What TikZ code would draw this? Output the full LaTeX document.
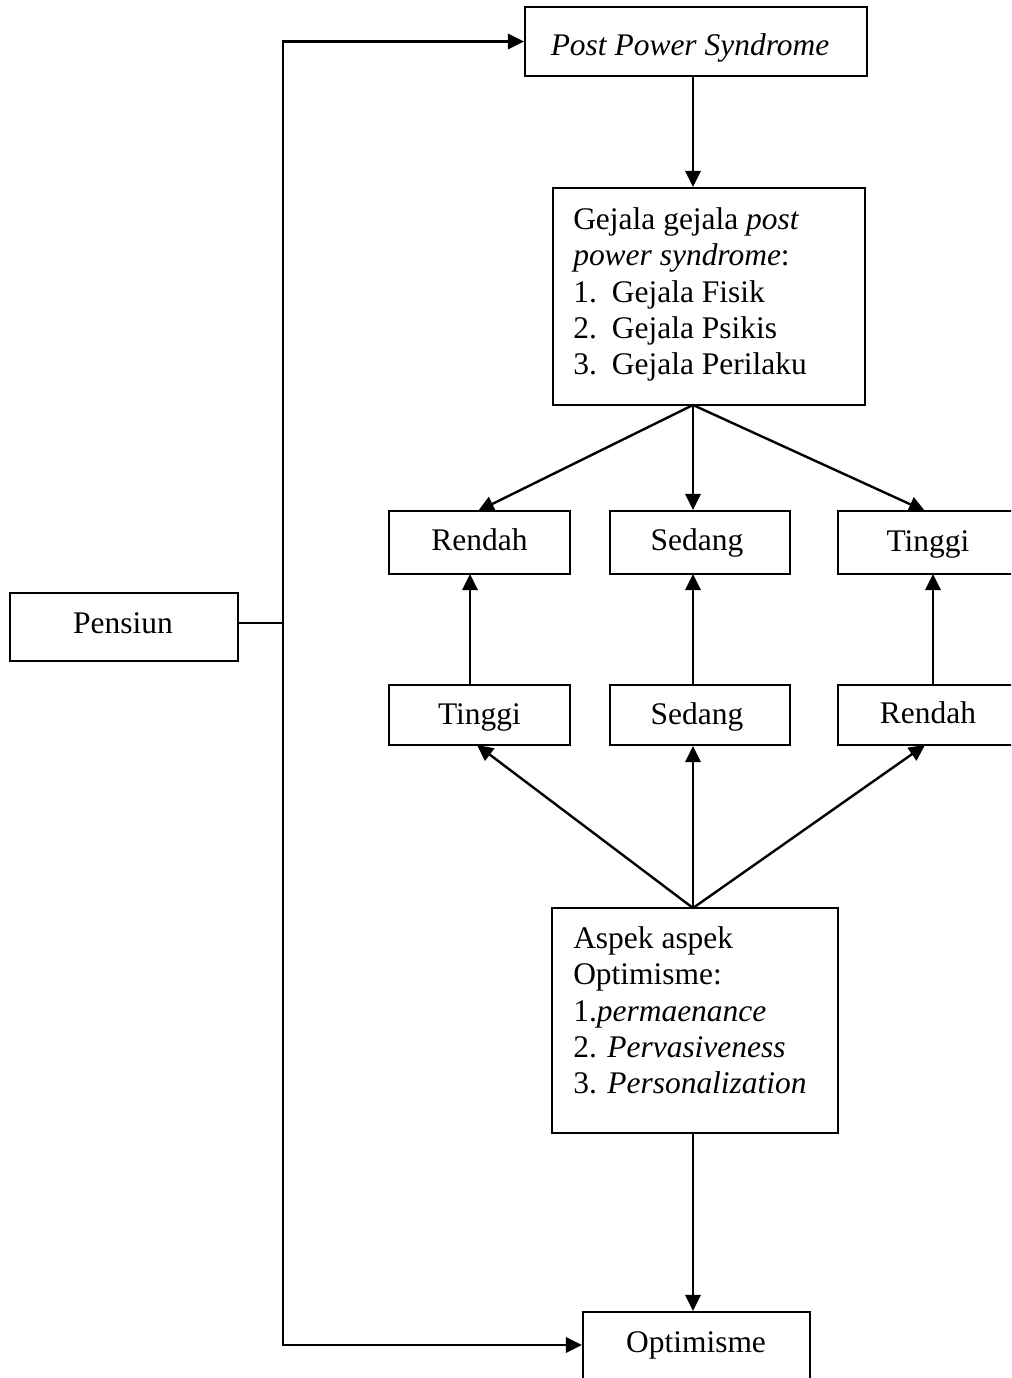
\documentclass[tikz,border=0pt]{standalone}
\usepackage{fontspec}
\setmainfont{Liberation Serif}
\usetikzlibrary{arrows.meta,calc,fit}
\begin{document}
\begin{tikzpicture}[x=0.75pt,y=-0.75pt,
  box/.style={draw,line width=1.6pt,rectangle,inner sep=0pt},
  txt/.style={inner sep=0pt,font=\fontsize{23.6pt}{27.2pt}\selectfont},
  conn/.style={line width=1.8pt},
  arr/.style={line width=1.8pt,-{Triangle[length=12pt,width=11.5pt]}}]
\useasboundingbox (0,0) rectangle (1011,1378);
\clip (0,0) rectangle (1011,1378);
% boxes
\node[box,fit={(525,7)(867,76)}] (pps) {};
\node[box,fit={(10,593)(238,661)}] (pen) {};
\node[box,fit={(553,188)(865,405)}] (gej) {};
\node[box,fit={(389,511)(570,574)}] (ra) {};
\node[box,fit={(610,511)(790,574)}] (sa) {};
\node[box,fit={(838,511)(1018,574)}] (ta) {};
\node[box,fit={(389,685)(570,745)}] (tb) {};
\node[box,fit={(610,685)(790,745)}] (sb) {};
\node[box,fit={(838,685)(1018,745)}] (rb) {};
\node[box,fit={(552,908)(838,1133)}] (asp) {};
\node[box,fit={(583,1312)(810,1420)}] (opt) {};
% texts
\node[txt,anchor=base] (ppsT) at (690,55) {\textit{Post Power Syndrome}};
\node[txt,anchor=base] (penT) at (123,633) {Pensiun};
\node[txt,anchor=base] (raT) at (479.5,550) {Rendah};
\node[txt,anchor=base] (saT) at (697,550) {Sedang};
\node[txt,anchor=base] (taT) at (928,551) {Tinggi};
\node[txt,anchor=base] (tbT) at (479.5,724) {Tinggi};
\node[txt,anchor=base] (sbT) at (697,724) {Sedang};
\node[txt,anchor=base] (rbT) at (928,723) {Rendah};
\node[txt,anchor=base] (optT) at (696,1352) {Optimisme};
\node[txt,anchor=north west,align=left] (gejT) at (573,207.5)
  {Gejala gejala \textit{post}\\
   \textit{power syndrome}:\\
   \makebox[29pt][l]{1.}Gejala Fisik\\
   \makebox[29pt][l]{2.}Gejala Psikis\\
   \makebox[29pt][l]{3.}Gejala Perilaku};
\node[txt,anchor=north west,align=left] (aspT) at (573,926.5)
  {Aspek aspek\\
   Optimisme:\\
   1.\textit{permaenance}\\
   2. \textit{Pervasiveness}\\
   3. \textit{Personalization}};
% connector points
\coordinate (jn) at (283,623);
\coordinate (gejB) at (693,405);
\coordinate (aspT0) at (693,908);
\coordinate (aspB) at (693,1133);
\coordinate (ppsB) at (693,76);
% connectors
\draw[conn] (pen.east |- jn) -- (jn);
\draw[arr] (jn) |- (pps.west);
\draw[arr] (jn) |- (opt.west |- 0,1345);
\draw[arr] (ppsB) -- (ppsB |- gej.north);
\draw[arr] (gejB) -- (478,511);
\draw[arr] (gejB) -- (gejB |- sa.north);
\draw[arr] (gejB) -- (925,511);
\draw[arr] (470,685) -- (470,574);
\draw[arr] (693,685) -- (693,574);
\draw[arr] (933,685) -- (933,574);
\draw[arr] (aspT0) -- (477,745);
\draw[arr] (aspT0) -- (aspT0 |- sb.south);
\draw[arr] (aspT0) -- (925,745);
\draw[arr] (aspB) -- (aspB |- opt.north);
\end{tikzpicture}
\end{document}
